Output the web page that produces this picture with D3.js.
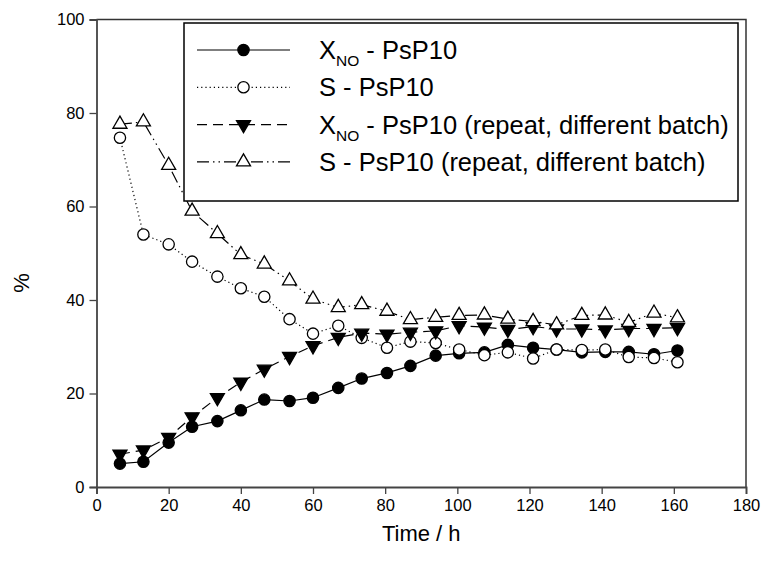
<!DOCTYPE html>
<html>
<head>
<meta charset="utf-8">
<script src="https://cdn.jsdelivr.net/npm/d3@7"></script>
<style>
  body { margin: 0; background: #fff; }
  text { font-family: "Liberation Sans", Arial, sans-serif; fill: #000; }
</style>
</head>
<body>
<div id="chart"></div>
<script>
// sampling times (h)
const times = [6.5, 13, 20, 26.5, 33.5, 40, 46.5, 53.5, 60, 67, 73.5, 80.5, 87, 94, 100.5, 107.5, 114, 121, 127.5, 134.5, 141, 147.5, 154.5, 161];

const xno = [5.0, 5.4, 9.5, 12.9, 14.1, 16.4, 18.7, 18.4, 19.1, 21.2, 23.2, 24.4, 25.9, 28.1, 28.6, 28.8, 30.4, 29.8, 29.4, 28.8, 28.9, 28.9, 28.4, 29.2];
const sel = [74.7, 54.0, 51.9, 48.2, 45.0, 42.5, 40.7, 35.9, 32.8, 34.5, 31.9, 29.8, 31.1, 30.8, 29.4, 28.2, 28.8, 27.5, 29.4, 29.3, 29.4, 27.8, 27.6, 26.7];
const xnoRep = [7.0, 7.9, 10.6, 15.0, 19.1, 22.4, 25.2, 27.9, 30.2, 32.0, 32.9, 32.7, 33.1, 33.4, 34.5, 34.2, 33.7, 34.3, 33.8, 33.8, 33.6, 33.9, 33.9, 34.1];
const selRep = [77.6, 78.1, 68.8, 59.0, 54.2, 49.7, 47.7, 44.1, 40.2, 38.4, 39.0, 37.6, 35.8, 36.3, 36.7, 36.8, 35.9, 35.4, 34.7, 36.7, 36.8, 35.2, 37.2, 36.2];

const xTicks = [0, 20, 40, 60, 80, 100, 120, 140, 160, 180];
const yTicks = [0, 20, 40, 60, 80, 100];

const width = 763, height = 568;
const margin = { top: 19.5, right: 17, bottom: 81, left: 96.5 };

const series = [
  { label: " - PsP10", sub: true, values: xno, dash: null, symbol: d3.symbolCircle, size: 100, fill: "#000", rotate: 0 },
  { label: "S - PsP10", sub: false, values: sel, dash: "1.2,3", symbol: d3.symbolCircle, size: 100, fill: "#fff", rotate: 0 },
  { label: " - PsP10 (repeat, different batch)", sub: true, values: xnoRep, dash: "10,6", symbol: d3.symbolTriangle, size: 85, fill: "#000", rotate: 180 },
  { label: "S - PsP10 (repeat, different batch)", sub: false, values: selRep, dash: "12,4,1.5,4,1.5,4", symbol: d3.symbolTriangle, size: 85, fill: "#fff", rotate: 0 }
];

const svg = d3.select("#chart").append("svg")
  .attr("width", width)
  .attr("height", height);

const x = d3.scaleLinear().domain([0, 180]).range([margin.left, width - margin.right]);
const y = d3.scaleLinear().domain([0, 100]).range([height - margin.bottom, margin.top]);

// frame top / right
svg.append("path")
  .attr("d", `M${x(0)},${y(100)}H${x(180)}V${y(0)}`)
  .attr("fill", "none")
  .attr("stroke", "#333")
  .attr("stroke-width", 1.5);

// axes
const xAxis = svg.append("g")
  .attr("transform", `translate(0,${y(0)})`)
  .call(d3.axisBottom(x).tickValues(xTicks).tickSize(7).tickPadding(5).tickFormat(d3.format("d")));
const yAxis = svg.append("g")
  .attr("transform", `translate(${x(0)},0)`)
  .call(d3.axisLeft(y).tickValues(yTicks).tickSize(7).tickPadding(5).tickFormat(d3.format("d")));

[xAxis, yAxis].forEach(a => {
  a.select(".domain").attr("stroke", "#444").attr("stroke-width", 1.8);
  a.selectAll(".tick line").attr("stroke", "#444").attr("stroke-width", 1.3);
  a.selectAll("text").style("font-size", "16.5px").style("font-family", "'Liberation Sans', Arial, sans-serif");
});

// axis titles
svg.append("text")
  .attr("x", (x(0) + x(180)) / 2)
  .attr("y", 541)
  .attr("text-anchor", "middle")
  .style("font-size", "22px")
  .text("Time / h");

svg.append("text")
  .attr("transform", `translate(29,283) rotate(-90)`)
  .attr("text-anchor", "middle")
  .style("font-size", "22px")
  .text("%");

// lines
const line = d3.line()
  .x((d, i) => x(times[i]))
  .y(d => y(d));

series.forEach(s => {
  svg.append("path")
    .datum(s.values)
    .attr("d", line)
    .attr("fill", "none")
    .attr("stroke", "#000")
    .attr("stroke-width", 1.2)
    .attr("stroke-dasharray", s.dash);
});

// markers
series.forEach(s => {
  const sym = d3.symbol().type(s.symbol).size(s.size);
  svg.append("g").selectAll("path")
    .data(s.values)
    .enter()
    .append("path")
    .attr("d", sym)
    .attr("transform", (d, i) => `translate(${x(times[i])},${y(d)}) rotate(${s.rotate})`)
    .attr("fill", s.fill)
    .attr("stroke", "#000")
    .attr("stroke-width", 1.3);
});

// legend
const legend = svg.append("g");
legend.append("rect")
  .attr("x", 184).attr("y", 23)
  .attr("width", 554).attr("height", 178)
  .attr("fill", "#fff")
  .attr("stroke", "#000")
  .attr("stroke-width", 1.5);

series.forEach((s, i) => {
  const ry = 50 + i * 37.3;
  legend.append("line")
    .attr("x1", 197).attr("x2", 290)
    .attr("y1", ry).attr("y2", ry)
    .attr("stroke", "#000")
    .attr("stroke-width", 1.2)
    .attr("stroke-dasharray", s.dash);
  legend.append("path")
    .attr("d", d3.symbol().type(s.symbol).size(s.size))
    .attr("transform", `translate(243.5,${ry}) rotate(${s.rotate})`)
    .attr("fill", s.fill)
    .attr("stroke", "#000")
    .attr("stroke-width", 1.3);
  const t = legend.append("text")
    .attr("x", 319)
    .attr("y", ry + 9)
    .style("font-size", "25.5px");
  if (s.sub) {
    t.append("tspan").text("X");
    t.append("tspan").attr("dy", 7).style("font-size", "15.5px").text("NO");
    t.append("tspan").attr("dy", -7).text(s.label);
  } else {
    t.text(s.label);
  }
});
</script>
</body>
</html>
